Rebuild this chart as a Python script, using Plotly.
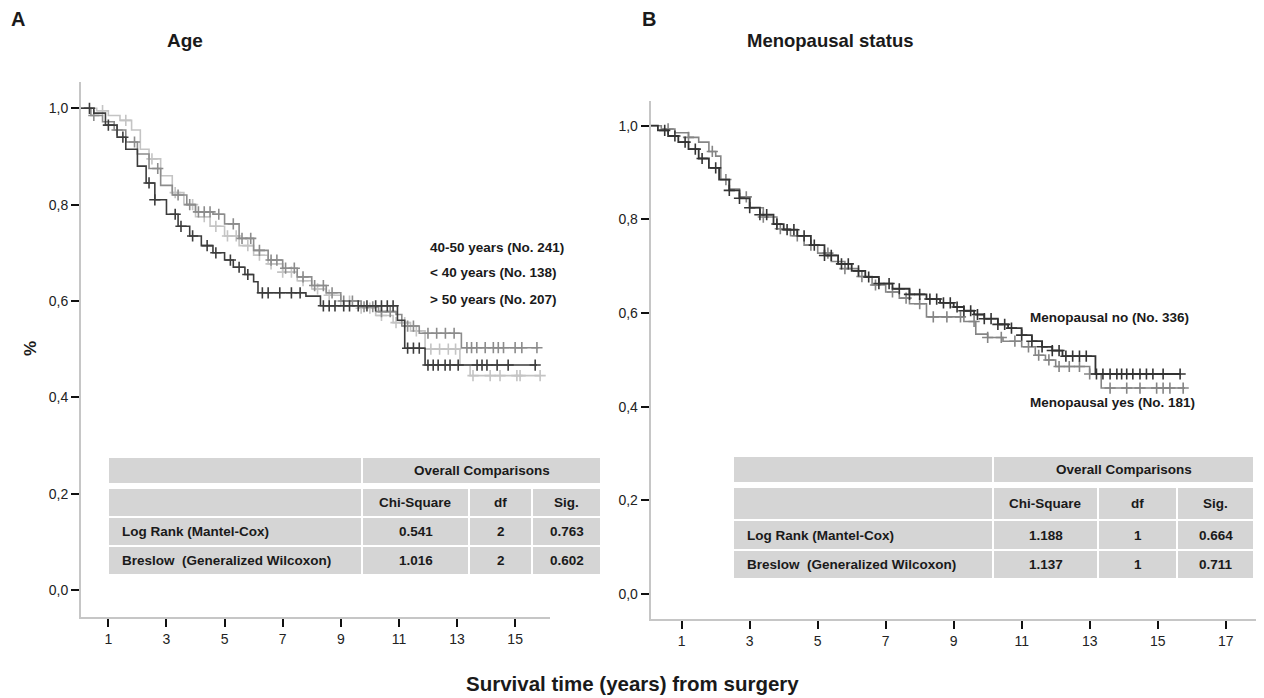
import numpy as np
import plotly.graph_objects as go

# page body has an 8px default margin: figure is sized to fit inside the window
W, H = 1256, 690
OFF = 8

# ---------------- data ----------------
# Panel A (Age) – Kaplan-Meier step curves
a_lt40_t = [0, 0.5, 0.9, 1.3, 1.6, 2.0, 2.3, 2.6, 3.0, 3.4, 3.8, 4.2, 4.6, 5.0, 5.3, 5.7, 6.0, 6.15, 7.8, 8.3, 10.95, 11.2, 11.9, 15.75]
a_lt40_s = [1.0, 0.99, 0.965, 0.94, 0.915, 0.88, 0.845, 0.81, 0.78, 0.755, 0.735, 0.715, 0.70, 0.685, 0.67, 0.655, 0.64, 0.617, 0.61, 0.59, 0.56, 0.502, 0.467, 0.467]
a_lt40_cens = [0.35, 1.0, 1.5, 2.4, 2.6, 3.3, 3.5, 3.9, 4.4, 4.7, 5.2, 5.5, 5.8, 6.3, 6.5, 6.9, 7.3, 7.6, 8.4, 8.6, 8.8, 9.1, 9.3, 9.6,
               9.9, 10.2, 10.4, 10.6, 10.8, 11.3, 11.5, 11.7, 12.0, 12.18, 12.35, 12.59, 12.76, 13.04, 13.69, 13.86, 14.03, 14.38, 14.76, 15.69]

a_4050_t = [0, 0.4, 0.8, 1.2, 1.6, 2.0, 2.4, 2.8, 3.2, 3.7, 4.0, 4.6, 5.0, 5.5, 6.0, 6.5, 7.0, 7.5, 8.0, 8.5, 9.0, 9.7, 10.3, 10.9, 11.1, 11.7, 13.15, 15.8]
a_4050_s = [1.0, 0.985, 0.972, 0.955, 0.93, 0.905, 0.875, 0.84, 0.82, 0.80, 0.785, 0.78, 0.76, 0.73, 0.705, 0.685, 0.668, 0.65, 0.632, 0.617, 0.60, 0.588, 0.578, 0.572, 0.548, 0.533, 0.503, 0.503]
a_4050_cens = [0.5, 1.3, 1.9, 2.7, 3.4, 3.8, 4.1, 4.3, 4.5, 4.8, 5.3, 5.6, 5.9, 6.2, 6.6, 6.8, 7.1, 7.4, 7.7, 8.1, 8.4, 8.7, 9.1, 9.4,
               9.8, 10.1, 10.4, 10.7, 11.3, 11.5, 12.0, 12.3, 12.6, 12.9, 13.34, 13.5, 13.68, 13.97, 14.25, 14.42, 14.6, 15.0, 15.23, 15.75]

a_gt50_t = [0, 0.6, 1.0, 1.4, 1.8, 2.1, 2.4, 2.8, 3.2, 3.6, 4.0, 4.5, 5.0, 5.5, 6.0, 6.5, 7.0, 7.5, 8.0, 8.5, 9.0, 9.6, 10.2, 10.8, 11.4, 11.9, 13.1, 13.45, 15.85]
a_gt50_s = [1.0, 0.995, 0.985, 0.975, 0.955, 0.915, 0.895, 0.86, 0.825, 0.80, 0.775, 0.755, 0.735, 0.715, 0.695, 0.677, 0.66, 0.642, 0.625, 0.612, 0.60, 0.585, 0.57, 0.555, 0.538, 0.50, 0.467, 0.445, 0.445]
a_gt50_cens = [0.8, 1.6, 2.5, 3.3, 3.9, 4.3, 4.7, 5.1, 5.4, 5.8, 6.2, 6.6, 7.0, 7.3, 7.7, 8.2, 8.6, 9.0, 9.3, 9.7, 10.0, 10.4, 10.9,
               11.2, 11.6, 12.1, 12.4, 12.7, 12.95, 13.55, 14.14, 14.48, 15.06, 15.17, 15.86]

a_labels = ["40-50 years (No. 241)", "< 40 years (No. 138)", "> 50 years (No. 207)"]

# Panel B (Menopausal status)
b_no_t = [0, 0.3, 0.6, 0.9, 1.2, 1.5, 1.8, 2.1, 2.4, 2.7, 3.0, 3.3, 3.7, 4.0, 4.4, 4.8, 5.2, 5.6, 6.0, 6.4, 6.8, 7.2, 7.7, 8.2, 8.6,
          9.0, 9.3, 9.6, 9.9, 10.3, 10.6, 11.0, 11.3, 11.6, 11.9, 12.2, 13.17, 15.66]
b_no_s = [1.0, 0.99, 0.978, 0.965, 0.95, 0.93, 0.91, 0.885, 0.862, 0.845, 0.825, 0.81, 0.79, 0.778, 0.765, 0.745, 0.723, 0.705, 0.69,
          0.677, 0.663, 0.652, 0.64, 0.63, 0.622, 0.613, 0.605, 0.597, 0.588, 0.576, 0.568, 0.553, 0.54, 0.528, 0.52, 0.508, 0.47, 0.47]
b_no_cens = [0.5, 0.8, 1.1, 1.4, 1.6, 2.0, 2.4, 2.7, 3.0, 3.3, 3.5, 3.8, 4.1, 4.3, 4.6, 4.9, 5.2, 5.4, 5.7, 5.9, 6.2, 6.5, 6.8, 7.1,
             7.4, 7.7, 8.0, 8.3, 8.5, 8.7, 8.9, 9.1, 9.3, 9.5, 9.7, 9.9, 10.1, 10.3, 10.5, 10.7, 11.0, 11.3, 11.6, 11.9, 12.1, 12.3,
             12.5, 12.7, 12.9, 13.2, 13.39, 13.6, 13.8, 13.94, 14.09, 14.27, 14.48, 14.67, 14.86, 15.16, 15.66]

b_yes_t = [0, 0.4, 0.8, 1.2, 1.5, 1.8, 2.0, 2.15, 2.4, 2.7, 3.0, 3.4, 3.8, 4.2, 4.6, 5.0, 5.4, 5.8, 6.2, 6.6, 7.0, 7.4, 7.7, 8.2,
           9.3, 9.65, 10.0, 10.45, 11.0, 11.4, 11.7, 12.0, 13.0, 13.34, 15.8]
b_yes_s = [1.0, 0.993, 0.985, 0.975, 0.965, 0.945, 0.935, 0.885, 0.865, 0.848, 0.825, 0.805, 0.78, 0.765, 0.745, 0.728, 0.71, 0.695,
           0.678, 0.66, 0.645, 0.632, 0.62, 0.592, 0.582, 0.555, 0.548, 0.54, 0.528, 0.51, 0.50, 0.486, 0.47, 0.44, 0.44]
b_yes_cens = [0.6, 1.2, 1.9, 2.3, 2.9, 3.4, 3.9, 4.4, 4.8, 5.3, 5.8, 6.3, 6.7, 7.2, 7.6, 8.0, 8.4, 8.8, 9.2, 9.6, 10.0, 10.4, 10.8,
              11.2, 11.5, 11.8, 12.1, 12.4, 12.7, 13.0, 13.6, 14.09, 14.48, 14.97, 15.16, 15.36, 15.75]

b_labels = ["Menopausal no (No. 336)", "Menopausal yes (No. 181)"]

y_ticks = [0.0, 0.2, 0.4, 0.6, 0.8, 1.0]
y_ticktext = ["0,0", "0,2", "0,4", "0,6", "0,8", "1,0"]
xa_ticks = [1, 3, 5, 7, 9, 11, 13, 15]
xb_ticks = [1, 3, 5, 7, 9, 11, 13, 15, 17]

tbl_header = "Overall Comparisons"
tbl_cols = ["Chi-Square", "df", "Sig."]
tbl_rows = ["Log Rank (Mantel-Cox)", "Breslow  (Generalized Wilcoxon)"]
tblA_chi = ["0.541", "1.016"]
tblA_df = ["2", "2"]
tblA_sig = ["0.763", "0.602"]
tblB_chi = ["1.188", "1.137"]
tblB_df = ["1", "1"]
tblB_sig = ["0.664", "0.711"]

# ---------------- helpers ----------------
def PX(px):
    return (px - OFF) / W

def PY(py):
    return 1 - (py - OFF) / H

def step_at(t, s, x):
    t = np.asarray(t); s = np.asarray(s)
    idx = np.searchsorted(t, np.asarray(x), side="right") - 1
    return s[np.clip(idx, 0, len(s) - 1)]

FONT = "Liberation Sans, Arial, sans-serif"

fig = go.Figure()

def add_curve(t, s, cens, color, width, xa, ya, name):
    fig.add_trace(go.Scatter(x=t, y=s, mode="lines", line=dict(color=color, width=width, shape="hv"),
                             xaxis=xa, yaxis=ya, name=name, showlegend=False, hoverinfo="skip"))
    fig.add_trace(go.Scatter(x=cens, y=step_at(t, s, cens), mode="markers",
                             marker=dict(symbol="cross-thin", size=8, line=dict(color=color, width=1.6)),
                             xaxis=xa, yaxis=ya, name=name, showlegend=False, hoverinfo="skip"))

add_curve(a_gt50_t, a_gt50_s, a_gt50_cens, "#c4c4c4", 1.6, "x", "y", a_labels[2])
add_curve(a_4050_t, a_4050_s, a_4050_cens, "#8c8c8c", 1.6, "x", "y", a_labels[0])
add_curve(a_lt40_t, a_lt40_s, a_lt40_cens, "#3c3c3c", 1.6, "x", "y", a_labels[1])
add_curve(b_yes_t, b_yes_s, b_yes_cens, "#858585", 1.6, "x2", "y2", b_labels[1])
add_curve(b_no_t, b_no_s, b_no_cens, "#333333", 1.8, "x2", "y2", b_labels[0])

axis_common = dict(showgrid=False, zeroline=False, showline=True, linecolor="#c6c6c6", linewidth=2,
                   ticks="outside", ticklen=8, tickwidth=2, tickcolor="#111111",
                   tickfont=dict(family=FONT, size=14, color="#222222"))

fig.update_layout(
    width=W, height=H, margin=dict(l=0, r=0, t=0, b=0),
    paper_bgcolor="white", plot_bgcolor="white",
    xaxis=dict(domain=[PX(81), PX(550)], range=[0.0585, 16.2], tickvals=xa_ticks, anchor="y", **axis_common),
    yaxis=dict(domain=[PY(616.7), PY(81.7)], range=[-0.0554, 1.0552], tickvals=y_ticks, ticktext=y_ticktext,
               anchor="x", **axis_common),
    xaxis2=dict(domain=[PX(650.7), min(PX(1260), 1.0)], range=[0.088, 18.01], tickvals=xb_ticks, anchor="y2", **axis_common),
    yaxis2=dict(domain=[PY(619.3), PY(101)], range=[-0.0536, 1.0527], tickvals=y_ticks, ticktext=y_ticktext,
                anchor="x2", **axis_common),
)

shapes = []
annots = []

def rect(x0, x1, y0, y1):
    shapes.append(dict(type="rect", xref="paper", yref="paper", x0=PX(x0), x1=PX(x1), y0=PY(y1), y1=PY(y0),
                       fillcolor="#d5d5d5", line=dict(width=0), layer="below"))

def text(s, x, y, size=14, anchor="center", bold=True, angle=0, color="#1a1a1a"):
    annots.append(dict(text=("<b>%s</b>" % s) if bold else s, x=PX(x), y=PY(y), xref="paper", yref="paper",
                       xanchor=anchor, yanchor="middle", showarrow=False, textangle=angle,
                       font=dict(family=FONT, size=size, color=color)))

def table(cols, rows_y, chi, df, sig):
    (c0a, c0b), (c1a, c1b), (c2a, c2b), (c3a, c3b) = cols
    h1, h2, r1, r2 = rows_y
    rect(c0a, c0b, *h1)
    rect(c1a, c3b, *h1)
    text(tbl_header, (c1a + c3b) / 2, (h1[0] + h1[1]) / 2, size=13.5)
    for (a, b) in cols:
        rect(a, b, *h2)
        rect(a, b, *r1)
        rect(a, b, *r2)
    for i, (a, b) in enumerate(cols[1:]):
        text(tbl_cols[i], (a + b) / 2, (h2[0] + h2[1]) / 2, size=13.5)
    for j, ry in enumerate([r1, r2]):
        cy = (ry[0] + ry[1]) / 2
        text(tbl_rows[j], c0a + 11, cy, size=13.5, anchor="left")
        for (a, b), v in zip(cols[1:], [chi[j], df[j], sig[j]]):
            text(v, (a + b) / 2, cy, size=13.5)

table([(109, 361), (363, 468), (470, 531), (533, 600)],
      [(458, 483), (489, 516), (518, 545), (547, 574)], tblA_chi, tblA_df, tblA_sig)
table([(734, 992), (994, 1097), (1099, 1176), (1178, 1253)],
      [(457, 482), (488, 519), (521, 549), (551, 578)], tblB_chi, tblB_df, tblB_sig)

# labels
for lab, yy in zip(a_labels, [247, 273, 299]):
    text(lab, 428, yy, size=13.5, anchor="left")
text(b_labels[0], 1028, 317, size=13.5, anchor="left")
text(b_labels[1], 1028, 402, size=13.5, anchor="left")

# titles
text("A", 18, 19, size=20, anchor="center")
text("B", 649, 19, size=20, anchor="center")
text("Age", 185, 41, size=19)
text("Menopausal status", 830, 41, size=18.5)
text("%", 30, 349, size=17, angle=-90)
text("Survival time (years) from surgery", 632, 683, size=20.5)

fig.update_layout(shapes=shapes, annotations=annots)
fig.write_html("out.html")
